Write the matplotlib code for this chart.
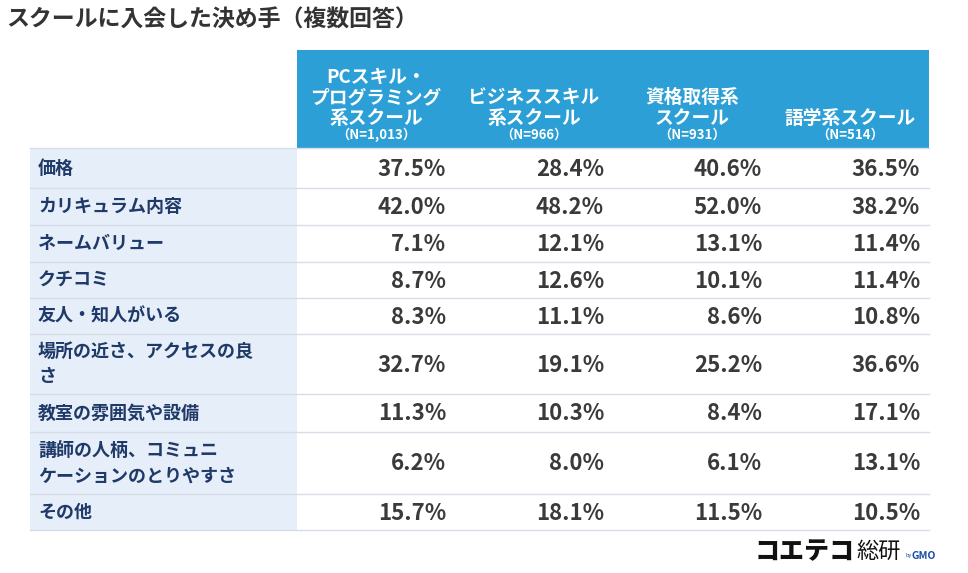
import matplotlib
matplotlib.use("Agg")
import matplotlib.pyplot as plt
from matplotlib.patches import Rectangle

plt.rcParams["font.family"] = "Noto Sans CJK JP"

TITLE = "スクールに入会した決め手（複数回答）"
COLUMNS = ["PCスキル・\nプログラミング\n系スクール", "ビジネススキル\n系スクール", "資格取得系\nスクール", "語学系スクール"]
COLUMN_N = ["（N=1,013）", "（N=966）", "（N=931）", "（N=514）"]
ROWS = ["価格", "カリキュラム内容", "ネームバリュー", "クチコミ", "友人・知人がいる",
        "場所の近さ、アクセスの良\nさ", "教室の雰囲気や設備", "講師の人柄、コミュニ\nケーションのとりやすさ", "その他"]
PC = [37.5, 42.0, 7.1, 8.7, 8.3, 32.7, 11.3, 6.2, 15.7]
BIZ = [28.4, 48.2, 12.1, 12.6, 11.1, 19.1, 10.3, 8.0, 18.1]
CERT = [40.6, 52.0, 13.1, 10.1, 8.6, 25.2, 8.4, 6.1, 11.5]
LANG = [36.5, 38.2, 11.4, 11.4, 10.8, 36.6, 17.1, 13.1, 10.5]

W, H = 968, 573
fig = plt.figure(figsize=(W / 100, H / 100), dpi=100)
ax = fig.add_axes([0, 0, 1, 1])
ax.set_xlim(0, W)
ax.set_ylim(H, 0)
ax.axis("off")

blue = "#2b9fd6"
label_bg = "#e6eef9"
label_fg = "#1f3a68"
line = "#d6dde6"

col_x = [297, 455, 613, 771, 929]
row_y = [148, 188, 225, 262, 298, 334, 394, 432, 494, 530]
left = 30

ax.text(6, 20, TITLE, fontsize=16.5, fontweight="bold", color="#333333", va="center")

# header
ax.add_patch(Rectangle((col_x[0], 50), col_x[-1] - col_x[0], row_y[0] - 50, color=blue, lw=0))
for i, (name, n) in enumerate(zip(COLUMNS, COLUMN_N)):
    cx = (col_x[i] + col_x[i + 1]) / 2
    ax.text(cx, 128, name, ha="center", va="bottom", fontsize=13.5, fontweight="bold",
            color="white", linespacing=1.12)
    ax.text(cx, 135, n, ha="center", va="center", fontsize=9.5, fontweight="bold",
            color="white")

# body
series = [PC, BIZ, CERT, LANG]
for r, label in enumerate(ROWS):
    y0, y1 = row_y[r], row_y[r + 1]
    ax.add_patch(Rectangle((left, y0), col_x[0] - left, y1 - y0, color=label_bg, lw=0))
    ax.plot([left, col_x[-1]], [y1, y1], color=line, lw=1)
    yc = (y0 + y1) / 2
    ax.text(left + 8, yc, label, ha="left", va="center", fontsize=13, fontweight="bold",
            color=label_fg, linespacing=1.45)
    for c, vals in enumerate(series):
        ax.text(col_x[c + 1] - 9, yc + 1, f"{vals[r]:.1f}%", ha="right", va="center",
                fontsize=16, fontweight="bold", color="#3a3a3a")
ax.plot([left, col_x[-1]], [row_y[0], row_y[0]], color=line, lw=1)

# logo
ax.text(855, 551, "コエテコ", ha="right", va="center", fontsize=18, fontweight="black", color="#111111")
ax.text(856, 551, "総研", ha="left", va="center", fontsize=16, color="#111111")
ax.text(905, 556, "by", ha="left", va="center", fontsize=4, color="#1a4aa8")
ax.text(912, 556, "GMO", ha="left", va="center", fontsize=7.5, fontweight="bold", color="#1a4aa8")

fig.savefig("out.png", dpi=100, facecolor="white")
